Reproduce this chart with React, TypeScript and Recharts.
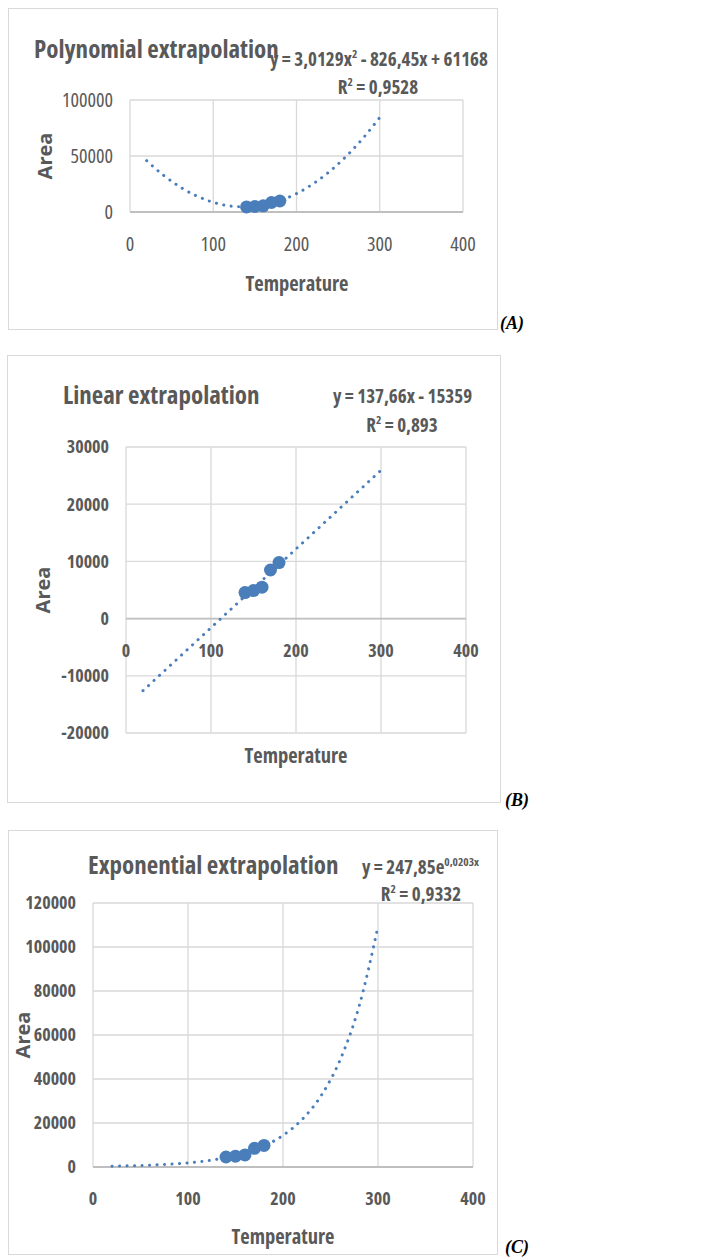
import React from "react"
import { ComposedChart, CartesianGrid, Line, ReferenceLine, Scatter, XAxis, YAxis } from "recharts"

const TEMPS = [140, 150, 160, 170, 180]
const AREAS = [4550, 4900, 5500, 8500, 9800]

const TREND_X = [20, 40, 60, 80, 100, 120, 140, 160, 180, 200, 220, 240, 260, 280, 300]
const POLY_Y = [45844, 32931, 22427, 14335, 8652, 5380, 4518, 6066, 10025, 16394, 25173, 36363, 49963, 65973, 84394]
const LINEAR_Y = [-12606, -9853, -7099, -4346, -1593, 1160, 3913, 6667, 9420, 12173, 14926, 17679, 20433, 23186, 25939]
const EXP_Y = [372, 558, 838, 1257, 1887, 2832, 4251, 6379, 9574, 14368, 21565, 32365, 48572, 72894, 109400]

const X_TICKS = [0, 100, 200, 300, 400]
const POLY_TICKS = [0, 50000, 100000]
const LINEAR_TICKS = [-20000, -10000, 0, 10000, 20000, 30000]
const EXP_TICKS = [0, 20000, 40000, 60000, 80000, 100000, 120000]

const BLUE = "#4a7ebb"
const TEXT = "#595959"
const FONT = "'Open Sans', Lato, sans-serif"
const STRETCH = "75%"

const points = TEMPS.map((x, i) => ({ x, y: AREAS[i] }))
const toTrend = (ys: number[]) => TREND_X.map((x, i) => ({ x, y: ys[i] }))

type PanelProps = {
  box: { left: number; top: number; width: number; height: number }
  margin: { top: number; right: number; left: number; bottom: number }
  yAxisWidth: number
  yTicks: number[]
  trend: number[]
  boldTicks: boolean
  xLabelsOnZero?: boolean
}

function Dot(props: any) {
  return <circle cx={props.cx} cy={props.cy} r={6.5} fill={BLUE} />
}

function Panel({ box, margin, yAxisWidth, yTicks, trend, boldTicks, xLabelsOnZero }: PanelProps) {
  const yMin = yTicks[0]
  const yMax = yTicks[yTicks.length - 1]
  const plotH = box.height - margin.top - margin.bottom - 30
  const shift = xLabelsOnZero ? (plotH * (0 - yMin)) / (yMax - yMin) : 0
  const tickStyle = {
    fill: TEXT,
    fontSize: boldTicks ? 18 : 20,
    fontFamily: FONT,
    fontStretch: STRETCH,
    fontWeight: boldTicks ? 700 : 400,
  }

  return (
    <div style={{ position: "absolute", left: box.left, top: box.top }}>
      <ComposedChart width={box.width} height={box.height} margin={margin}>
        <CartesianGrid stroke="#d9d9d9" strokeWidth={1.3} />
        <XAxis
          type="number"
          dataKey="x"
          domain={[0, 400]}
          ticks={X_TICKS}
          height={30}
          axisLine={false}
          tickLine={false}
          tickSize={0}
          tickMargin={18}
          interval={0}
          tick={(p: any) => (
            <text x={p.x} y={p.y - shift + 13} textAnchor="middle" dominantBaseline="central" style={tickStyle}>
              {p.payload.value}
            </text>
          )}
        />
        <YAxis
          type="number"
          dataKey="y"
          domain={[yMin, yMax]}
          ticks={yTicks}
          width={yAxisWidth}
          axisLine={false}
          tickLine={false}
          tickSize={0}
          tickMargin={17}
          interval={0}
          tick={tickStyle}
        />
        <ReferenceLine y={0} stroke="#bfbfbf" strokeWidth={1.8} />
        <Line
          data={toTrend(trend)}
          dataKey="y"
          type="monotone"
          stroke={BLUE}
          strokeWidth={3}
          strokeDasharray="0.1 7.4"
          strokeLinecap="round"
          dot={false}
          activeDot={false}
          isAnimationActive={false}
        />
        <Scatter data={points} dataKey="y" shape={<Dot />} isAnimationActive={false} />
      </ComposedChart>
    </div>
  )
}

function Txt({
  x,
  y,
  size,
  bold = true,
  align = "left",
  rotate = false,
  children,
}: {
  x: number
  y: number
  size: number
  bold?: boolean
  align?: "left" | "center"
  rotate?: boolean
  children: React.ReactNode
}) {
  const tx = align === "center" ? "-50%" : "0"
  return (
    <div
      style={{
        position: "absolute",
        left: x,
        top: y,
        transform: `translate(${tx}, -50%)${rotate ? " rotate(-90deg)" : ""}`,
        whiteSpace: "nowrap",
        lineHeight: 1,
        fontSize: size,
        fontWeight: bold ? 700 : 400,
        fontFamily: FONT,
        // rotated text is not squeezed in the reference, only horizontal text
        fontStretch: rotate ? "100%" : STRETCH,
        color: TEXT,
      }}
    >
      {children}
    </div>
  )
}

function Tag({ x, y, children }: { x: number; y: number; children: React.ReactNode }) {
  return (
    <div
      style={{
        position: "absolute",
        left: x,
        top: y,
        transform: "translate(0, -50%)",
        lineHeight: 1,
        fontSize: 18,
        fontFamily: "'Liberation Serif', serif",
        fontStyle: "italic",
        fontWeight: 700,
        color: "#000",
      }}
    >
      {children}
    </div>
  )
}

function Frame({ left, top, width, height }: { left: number; top: number; width: number; height: number }) {
  return (
    <div
      style={{
        position: "absolute",
        left,
        top,
        width,
        height,
        border: "1.5px solid #d9d9d9",
        boxSizing: "border-box",
      }}
    />
  )
}

export default function App() {
  const sup = { fontSize: "0.6em", verticalAlign: "super", lineHeight: 0 } as const
  return (
    <div style={{ position: "absolute", left: 0, top: 0, width: 723, height: 1257, background: "#fff" }}>
      {/* (A) polynomial */}
      <Frame left={8} top={8} width={490} height={322} />
      <Panel
        box={{ left: 8, top: 8, width: 490, height: 322 }}
        margin={{ top: 92, right: 35, left: 42, bottom: 88 }}
        yAxisWidth={80}
        yTicks={POLY_TICKS}
        trend={POLY_Y}
        boldTicks={false}
      />
      <Txt x={34} y={48} size={25}>Polynomial extrapolation</Txt>
      <Txt x={270} y={59} size={19}>
        y = 3,0129x<span style={sup}>2</span> - 826,45x + 61168
      </Txt>
      <Txt x={378} y={87} size={19} align="center">
        R<span style={sup}>2</span> = 0,9528
      </Txt>
      <Txt x={297} y={283} size={20.5} align="center">Temperature</Txt>
      <Txt x={45} y={156} size={20} align="center" rotate>Area</Txt>
      <Tag x={500} y={323}>(A)</Tag>

      {/* (B) linear */}
      <Frame left={7} top={355} width={494} height={448} />
      <Panel
        box={{ left: 7, top: 355, width: 494, height: 448 }}
        margin={{ top: 92, right: 35, left: 39, bottom: 40 }}
        yAxisWidth={80}
        yTicks={LINEAR_TICKS}
        trend={LINEAR_Y}
        boldTicks
        xLabelsOnZero
      />
      <Txt x={63} y={394} size={25}>Linear extrapolation</Txt>
      <Txt x={333} y={396} size={19}>y = 137,66x - 15359</Txt>
      <Txt x={402} y={425} size={19} align="center">
        R<span style={sup}>2</span> = 0,893
      </Txt>
      <Txt x={296} y={755} size={20.5} align="center">Temperature</Txt>
      <Txt x={43} y={590} size={20} align="center" rotate>Area</Txt>
      <Tag x={505} y={800}>(B)</Tag>

      {/* (C) exponential */}
      <Frame left={8} top={830} width={490} height={425} />
      <Panel
        box={{ left: 8, top: 830, width: 490, height: 425 }}
        margin={{ top: 73, right: 25, left: 15, bottom: 58 }}
        yAxisWidth={70}
        yTicks={EXP_TICKS}
        trend={EXP_Y}
        boldTicks
      />
      <Txt x={88} y={864} size={25}>Exponential extrapolation</Txt>
      <Txt x={362} y={867} size={19}>
        y = 247,85e<span style={sup}>0,0203x</span>
      </Txt>
      <Txt x={421} y={894} size={19} align="center">
        R<span style={sup}>2</span> = 0,9332
      </Txt>
      <Txt x={283} y={1236} size={20.5} align="center">Temperature</Txt>
      <Txt x={23} y={1035} size={20} align="center" rotate>Area</Txt>
      <Tag x={505} y={1247}>(C)</Tag>
    </div>
  )
}
